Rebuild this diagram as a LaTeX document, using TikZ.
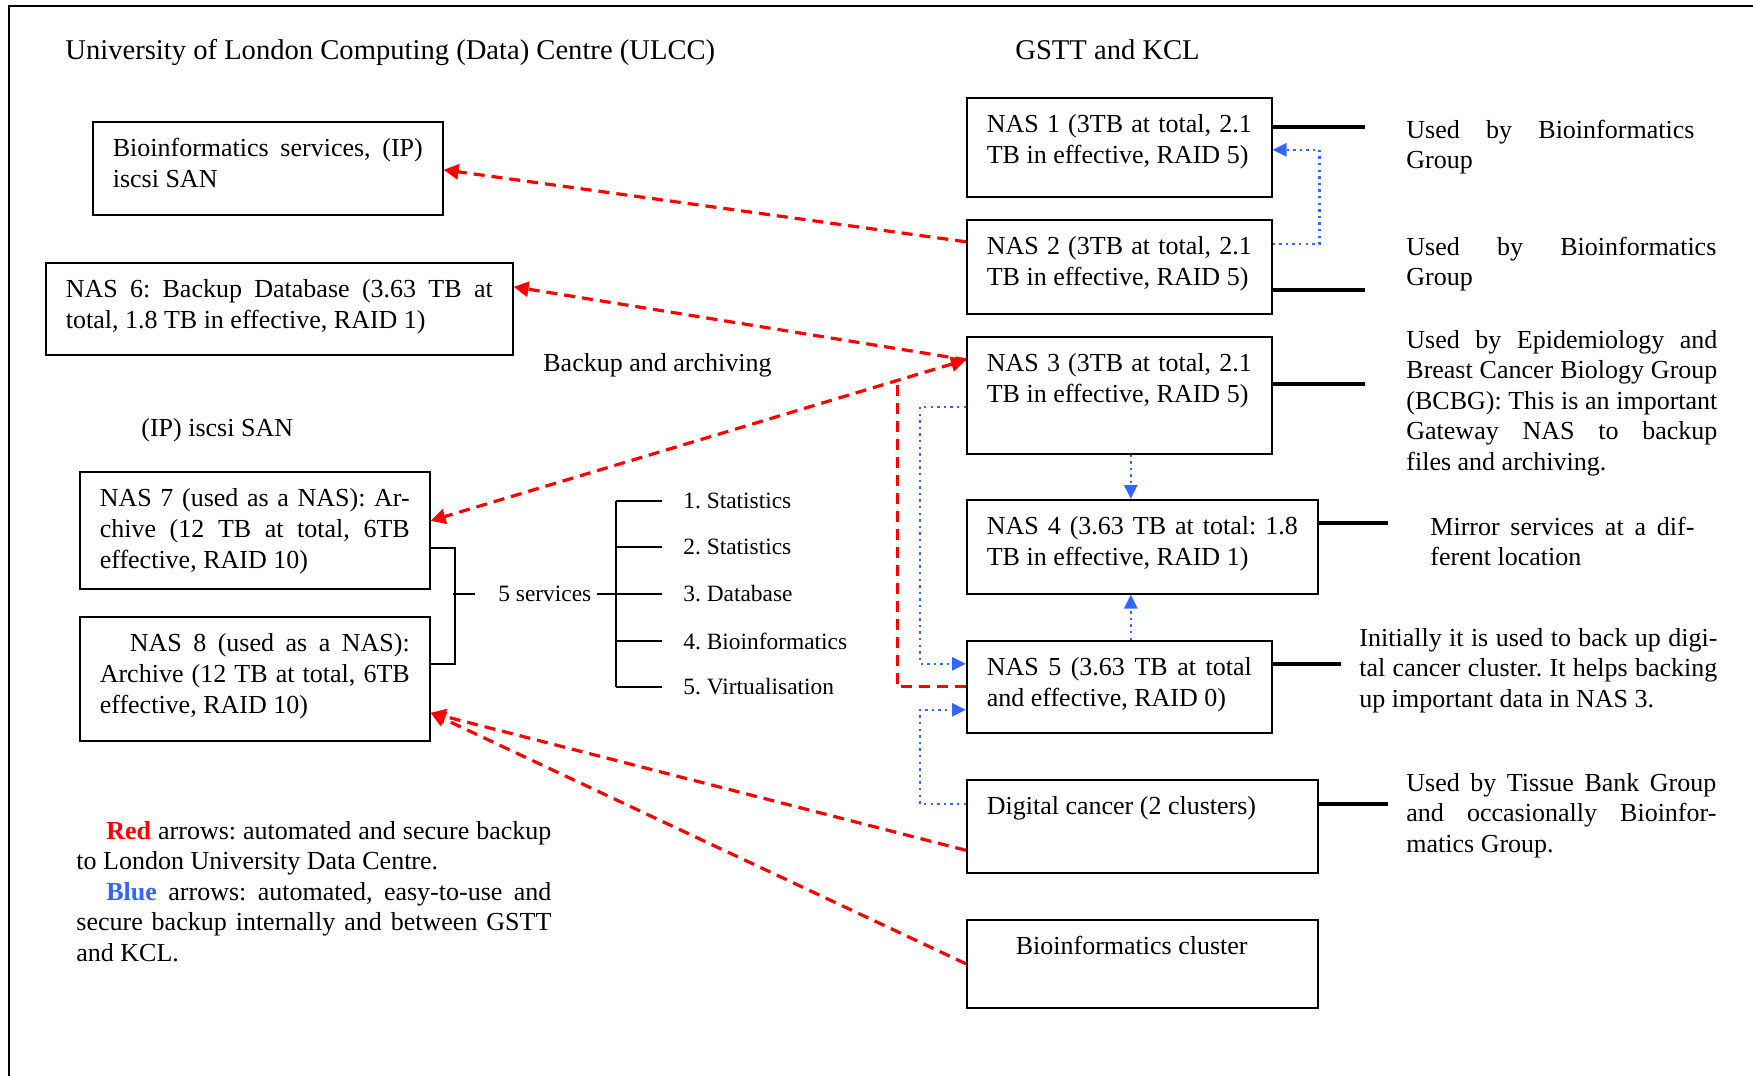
\documentclass[tikz,border=0pt]{standalone}
\usepackage{fontspec}
\setmainfont{Liberation Serif}
\usetikzlibrary{arrows.meta,calc}
\definecolor{myred}{RGB}{255,0,0}
\definecolor{myblue}{RGB}{51,102,255}
\hyphenpenalty=10000
\exhyphenpenalty=10000
\tolerance=10000
\frenchspacing
\newcommand{\bt}[3]{\parbox[c][#1][t]{#2}{\rule{0pt}{17.5pt}#3}}
\newcommand{\ptx}[2]{\parbox[t]{#1}{#2}}
\begin{document}
\begin{tikzpicture}[x=0.5pt,y=-0.5pt,
  every node/.style={font=\fontsize{13}{15.3}\selectfont},
  box/.style={draw, line width=0.8pt, inner xsep=10pt, inner ysep=0pt, anchor=north west},
  txt/.style={anchor=base west, inner sep=0pt},
  head/.style={anchor=base west, inner sep=0pt, font=\fontsize{14.3}{17}\selectfont},
  item/.style={anchor=west, inner sep=0pt, font=\fontsize{11.7}{14}\selectfont},
  reddash/.style={draw=myred, line width=1.6pt, dash pattern=on 5.5pt off 3.5pt},
  redtip/.style={-{Triangle[length=7.5pt,width=7.5pt]}},
  bluedot/.style={draw=myblue, line width=1.3pt, dash pattern=on 1.2pt off 2.1pt, -{Triangle[length=7pt,width=6.5pt]}},
  conn/.style={line width=1.7pt},
  brk/.style={line width=0.9pt}]
\fill[white] (0,0) rectangle (1753,1076);
\useasboundingbox (0,0) rectangle (1753,1076);
% frame
\draw[line width=1.2pt] (1753,6) -- (9,6) -- (9,1076);

% headings
\node[head] (title) at (65,59) {University of London Computing (Data) Centre (ULCC)};
\node[head] (gstt) at (1015,59) {GSTT and KCL};
\node[txt] (bua) at (543,371) {Backup and archiving};
\node[txt] (san) at (141,436) {(IP) iscsi SAN};

% left boxes
\node[box] (bioserv) at (92,121) {\bt{46.5pt}{155pt}{Bioinformatics services, (IP)\linebreak iscsi SAN}};
\node[box] (nas6) at (45,262) {\bt{46pt}{213.5pt}{NAS 6: Backup Database (3.63 TB at\linebreak total, 1.8 TB in effective, RAID 1)}};
\node[box] (nas7) at (79,471) {\bt{58.5pt}{155pt}{NAS 7 (used as a NAS): Ar-\linebreak chive (12 TB at total, 6TB\linebreak effective, RAID 10)}};
\node[box] (nas8) at (79,616) {\bt{62pt}{155pt}{\hspace*{15pt}NAS 8 (used as a NAS):\linebreak Archive (12 TB at total, 6TB\linebreak effective, RAID 10)}};

% right boxes
\node[box] (nas1) at (966,97) {\bt{49.5pt}{132.5pt}{NAS 1 (3TB at total, 2.1\linebreak TB in effective, RAID 5)}};
\node[box] (nas2) at (966,219) {\bt{47pt}{132.5pt}{NAS 2 (3TB at total, 2.1\linebreak TB in effective, RAID 5)}};
\node[box] (nas3) at (966,336) {\bt{58.5pt}{132.5pt}{NAS 3 (3TB at total, 2.1\linebreak TB in effective, RAID 5)}};
\node[box] (nas4) at (966,499) {\bt{47pt}{155.5pt}{NAS 4 (3.63 TB at total: 1.8\linebreak TB in effective, RAID 1)}};
\node[box] (nas5) at (966,640) {\bt{46pt}{132.5pt}{NAS 5 (3.63 TB at total\linebreak and effective, RAID 0)}};
\node[box] (dig) at (966,779) {\bt{46.5pt}{155.5pt}{Digital cancer (2 clusters)}};
\node[box] (bcl) at (966,919) {\bt{44pt}{155.5pt}{\hspace*{14.5pt}Bioinformatics cluster}};

% right descriptions
\node[txt] (d1) at (1406,138) {\ptx{144pt}{Used by Bioinformatics\linebreak Group}};
\node[txt] (d2) at (1406,255) {\ptx{155pt}{Used by Bioinformatics\linebreak Group}};
\node[txt] (d3) at (1406,348) {\ptx{155.5pt}{Used by Epidemiology and\linebreak Breast Cancer Biology Group\linebreak (BCBG): This is an important\linebreak Gateway NAS to backup\linebreak files and archiving.}};
\node[txt] (d4) at (1430,535) {\ptx{132pt}{Mirror services at a dif-\linebreak ferent location}};
\node[txt] (d5) at (1359,646) {\ptx{179pt}{Initially it is used to back up digi-\linebreak tal cancer cluster. It helps backing\linebreak up important data in NAS 3.}};
\node[txt] (d6) at (1406,791) {\ptx{155pt}{Used by Tissue Bank Group\linebreak and occasionally Bioinfor-\linebreak matics Group.}};

% legend
\node[txt] (legend) at (76,839) {\ptx{237.5pt}{\hspace*{15pt}{\color{myred}\bfseries Red} arrows: automated and secure backup\linebreak to London University Data Centre.\par\hspace*{15pt}{\color{myblue}\bfseries Blue} arrows: automated, easy-to-use and\linebreak secure backup internally and between GSTT\linebreak and KCL.}};

% services
\node[item, inner xsep=2.5pt] (svc) at (493,594) {5 services};
\node[item] (it1) at (683,501) {1. Statistics};
\node[item] (it2) at (683,547) {2. Statistics};
\node[item] (it3) at (683,594) {3. Database};
\node[item] (it4) at (683,641) {4. Bioinformatics};
\node[item] (it5) at (683,687) {5. Virtualisation};
\coordinate (hub) at (616,594);
\coordinate (bm) at (453,594);
\draw[brk] ([yshift=-8.75pt]nas7.east) -- ++(24,0) |- ([yshift=7.5pt]nas8.east);
\draw[brk] (bm) -- ++(22,0);
\draw[brk] (svc.east) -- (hub);
\draw[brk] (hub |- it1.west) -- (hub |- it5.west);
\foreach \i in {1,...,5} \draw[brk] (hub |- it\i.west) -- ([xshift=-10.5pt]it\i.west);

% black connectors
\draw[conn] ([yshift=10.25pt]nas1.east) -- ++(92,0);
\draw[conn] ([yshift=-11.5pt]nas2.east) -- ++(92,0);
\draw[conn] ([yshift=5.75pt]nas3.east) -- ++(92,0);
\draw[conn] ([yshift=12pt]nas4.east) -- ++(69,0);
\draw[conn] ([yshift=11.5pt]nas5.east) -- ++(68,0);
\draw[conn] ([yshift=11.25pt]dig.east) -- ++(69,0);

% red arrows
\draw[reddash, redtip] ([yshift=12.5pt]nas2.west) -- ([yshift=-0.75pt]bioserv.east);
\draw[reddash, redtip] ([yshift=17.75pt]nas3.west) -- ([yshift=11pt]nas6.east);
\coordinate (n3in) at ([yshift=17.75pt]nas3.west);
\coordinate (n7in) at ([yshift=4.75pt]nas7.east);
\draw[reddash, {Triangle[length=7.5pt,width=7.5pt]}-{Triangle[length=7.5pt,width=7.5pt]}] (n3in) -- (n7in);
\coordinate (j) at ($(n3in)!0.1285!(n7in)$);
\draw[reddash] (nas5.west) -| (j);
\draw[reddash, redtip] ([yshift=-12pt]dig.west) -- ([yshift=-17pt]nas8.east);
\draw[reddash, redtip] (bcl.west) -- ([yshift=-17pt]nas8.east);

% blue arrows
\draw[bluedot] ([yshift=11.5pt]nas2.east) -| ($([yshift=-1.25pt]nas1.east)+(47,0)$) -- ([yshift=-1.25pt]nas1.east);
\draw[bluedot] ([xshift=5.75pt]nas3.south) -- ([xshift=-5.75pt]nas4.north);
\draw[bluedot] ([xshift=5.75pt]nas5.north) -- ([xshift=-5.75pt]nas4.south);
\draw[bluedot] ([yshift=-5.75pt]nas3.west) -- ++(-46,0) |- ([yshift=11.5pt]nas5.west);
\draw[bluedot] ([yshift=11.25pt]dig.west) -- ++(-46,0) |- ([yshift=-11.5pt]nas5.west);
\end{tikzpicture}
\end{document}
